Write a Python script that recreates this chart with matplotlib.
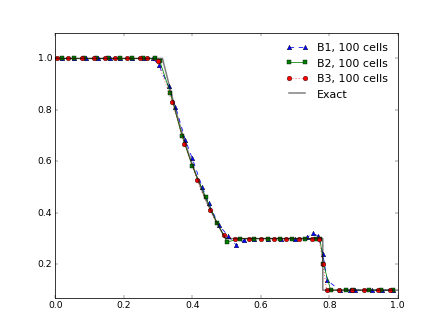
import matplotlib
matplotlib.use("Agg")
import matplotlib.pyplot as plt

plt.style.use("classic")

# exact solution
exact_x = [0.0, 0.313, 0.33, 0.35, 0.37, 0.39, 0.41, 0.43, 0.45, 0.47, 0.497, 0.781, 0.781, 1.0]
exact_y = [1.0, 1.0, 0.91, 0.806, 0.711, 0.628, 0.552, 0.482, 0.421, 0.366, 0.30, 0.30, 0.10, 0.10]

# B1, 100 cells
b1_x = [0.02, 0.055, 0.09, 0.125, 0.16, 0.19, 0.225, 0.26, 0.285, 0.302,
        0.331, 0.351, 0.380, 0.400, 0.429, 0.448, 0.478, 0.505, 0.529, 0.551,
        0.58, 0.62, 0.66, 0.70, 0.735, 0.752, 0.768, 0.781, 0.794,
        0.83, 0.86, 0.875, 0.925, 0.955, 0.985]
b1_y = [1.0, 1.0, 1.0, 1.0, 1.0, 1.0, 1.0, 1.0, 1.0, 0.975,
        0.891, 0.813, 0.683, 0.612, 0.501, 0.437, 0.352, 0.31, 0.274, 0.294,
        0.30, 0.30, 0.30, 0.30, 0.305, 0.32, 0.31, 0.242, 0.138,
        0.10, 0.10, 0.10, 0.10, 0.10, 0.10]

# B2, 100 cells
b2_x = [0.02, 0.055, 0.085, 0.12, 0.155, 0.19, 0.225, 0.255, 0.29, 0.305,
        0.336, 0.370, 0.400, 0.439, 0.473, 0.502,
        0.54, 0.58, 0.62, 0.655, 0.69, 0.73, 0.76, 0.773, 0.783,
        0.804, 0.85, 0.87, 0.915, 0.95, 0.985]
b2_y = [1.0, 1.0, 1.0, 1.0, 1.0, 1.0, 1.0, 1.0, 1.0, 0.99,
        0.865, 0.699, 0.582, 0.462, 0.359, 0.287,
        0.30, 0.30, 0.30, 0.30, 0.30, 0.30, 0.30, 0.30, 0.20,
        0.10, 0.10, 0.10, 0.10, 0.10, 0.10]

# B3, 100 cells
b3_x = [0.005, 0.038, 0.078, 0.112, 0.146, 0.175, 0.21, 0.248, 0.268, 0.299,
        0.341, 0.377, 0.414, 0.451, 0.492, 0.526,
        0.565, 0.601, 0.638, 0.675, 0.711, 0.750, 0.770, 0.782,
        0.792, 0.828, 0.865, 0.901, 0.941, 0.977]
b3_y = [1.0, 1.0, 1.0, 1.0, 1.0, 1.0, 1.0, 1.0, 1.0, 0.99,
        0.832, 0.668, 0.527, 0.411, 0.313, 0.30,
        0.30, 0.30, 0.30, 0.30, 0.30, 0.30, 0.30, 0.20,
        0.10, 0.10, 0.10, 0.10, 0.10, 0.10]

fig, ax = plt.subplots(figsize=(8, 6), dpi=55.25)

ax.plot(b1_x, b1_y, "b^--", label="B1, 100 cells")
ax.plot(b2_x, b2_y, "gs-", label="B2, 100 cells")
ax.plot(b3_x, b3_y, "ro:", label="B3, 100 cells")
ax.plot(exact_x, exact_y, "k-", lw=2, alpha=0.5, label="Exact")

ax.set_xlim(0.0, 1.0)
ax.set_ylim(0.07, 1.1)
ax.set_yticks([0.2, 0.4, 0.6, 0.8, 1.0])
ax.legend(loc="upper right", frameon=False)

fig.savefig("out.png", dpi=55.25)
